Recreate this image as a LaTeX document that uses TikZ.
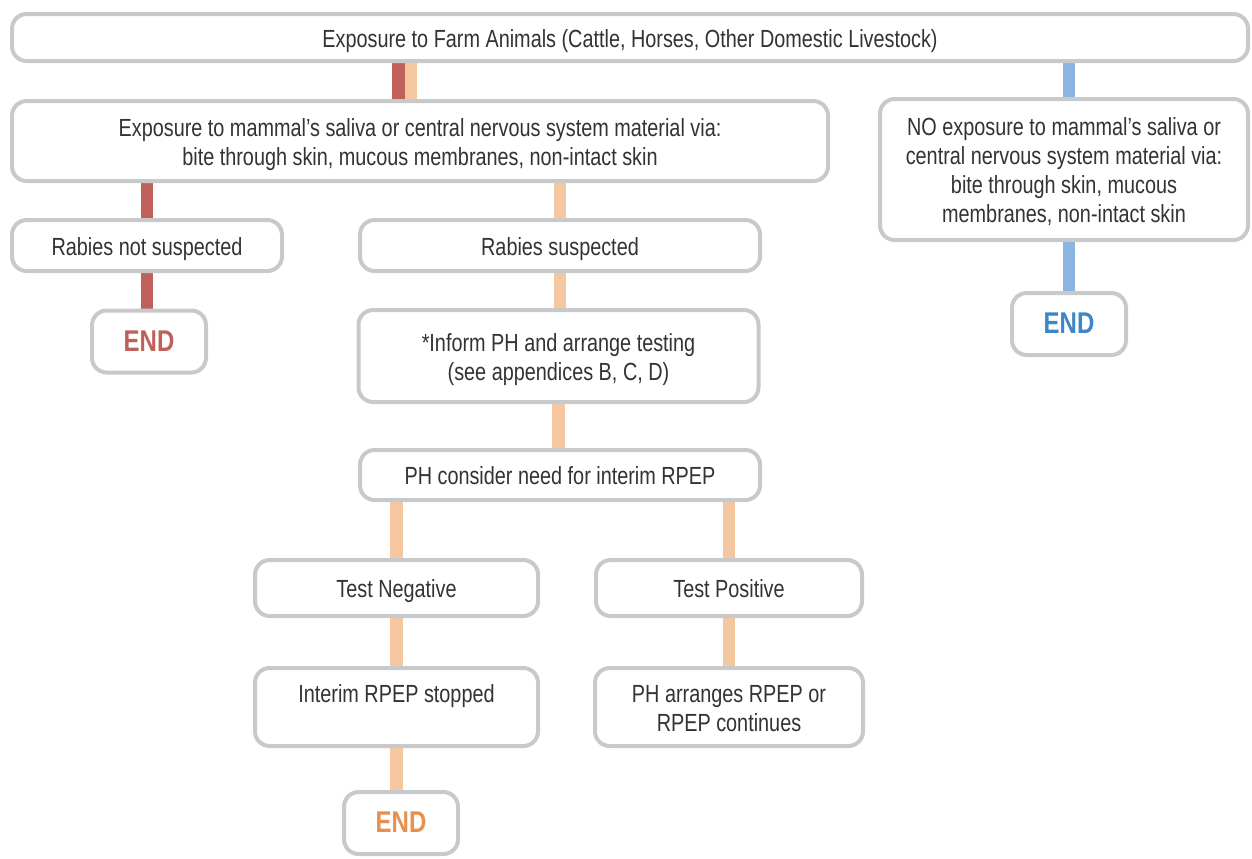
\documentclass[tikz,border=0pt]{standalone}
\usepackage{fontspec}
\setmainfont{Liberation Sans}[FakeStretch=0.8]
\usetikzlibrary{calc}
\pgfdeclarelayer{bg}
\pgfsetlayers{bg,main}
\definecolor{boxgrey}{HTML}{C8C9CA}
\definecolor{txt}{HTML}{333333}
\definecolor{redc}{HTML}{C0605B}
\definecolor{peach}{HTML}{F4C7A1}
\definecolor{bluec}{HTML}{8BB5E0}
\definecolor{endred}{HTML}{C0605B}
\definecolor{endorange}{HTML}{E8904F}
\definecolor{endblue}{HTML}{3E86C8}
\newcommand\tstrut{\rule[-6.5pt]{0pt}{27.7pt}}
\tikzset{
  box/.style={draw=boxgrey, line width=3pt, rounded corners=11pt, fill=white,
    align=center, inner sep=0pt, text=txt, font=\fontsize{18.6}{21.75}\selectfont},
  endbox/.style={box, minimum width=85.5pt, minimum height=46.5pt,
    font=\fontsize{22.5}{26}\selectfont\bfseries},
  bar/.style={line width=9.5pt}
}
\begin{document}
\begin{tikzpicture}[x=0.75pt,y=-0.75pt]
\useasboundingbox (0,0) rectangle (1252,858);
\node[box, minimum width=927pt, minimum height=35.25pt] (top) at (630,37.5)
  {\tstrut Exposure to Farm Animals (Cattle, Horses, Other Domestic Livestock)};
\node[box, minimum width=612pt, minimum height=60pt] (expo) at (420,141)
  {\tstrut Exposure to mammal’s saliva or central nervous system material via:\\\strut bite through skin, mucous membranes, non-intact skin};
\node[box, minimum width=276pt, minimum height=105.75pt] (no) at (1064,169.5)
  {\tstrut NO exposure to mammal’s saliva or\\\strut central nervous system material via:\\\strut bite through skin, mucous\\\strut membranes, non-intact skin};
\node[box, minimum width=202.5pt, minimum height=38.25pt] (nots) at (147,245.5) {\tstrut Rabies not suspected};
\node[endbox, text=endred] (endr) at (149,341.5) {\tstrut END};
\node[box, minimum width=300pt, minimum height=38.25pt] (susp) at (560,245.5) {\tstrut Rabies suspected};
\node[box, minimum width=300pt, minimum height=69pt] (inform) at (558.5,356)
  {\tstrut *Inform PH and arrange testing\\\strut (see appendices B, C, D)};
\node[box, minimum width=300pt, minimum height=37.5pt] (phc) at (560,475) {\tstrut PH consider need for interim RPEP};
\node[box, minimum width=212.25pt, minimum height=42pt] (neg) at (396.5,588) {\tstrut Test Negative};
\node[box, minimum width=199.5pt, minimum height=42pt] (pos) at (729,588) {\tstrut Test Positive};
\node[box, minimum width=212.25pt, minimum height=58.5pt] (interim) at (396.5,707) {\tstrut Interim RPEP stopped\\\strut};
\node[box, minimum width=201pt, minimum height=58.5pt] (arr) at (729,707) {\tstrut PH arranges RPEP or\\\strut RPEP continues};
\node[endbox, text=endorange] (endo) at (401,823) {\tstrut END};
\node[endbox, text=endblue] (endb) at (1069,324) {\tstrut END};
\coordinate (rx) at (398.5,0);
\coordinate (px) at (411,0);
\begin{pgfonlayer}{bg}
\draw[bar, redc] (top.south -| rx) -- (expo.north -| rx);
\draw[bar, peach] (top.south -| px) -- (expo.north -| px);
\draw[bar, redc] (expo.south -| nots.north) -- (nots.north);
\draw[bar, redc] (nots.south) -- (nots.south |- endr.north);
\draw[bar, peach] (expo.south -| susp.north) -- (susp.north);
\draw[bar, peach] (susp.south) -- (susp.south |- inform.north);
\draw[bar, peach] (inform.south) -- (inform.south |- phc.north);
\draw[bar, peach] (phc.south -| neg.north) -- (neg.north);
\draw[bar, peach] (phc.south -| pos.north) -- (pos.north);
\draw[bar, peach] (neg.south) -- (interim.north);
\draw[bar, peach] (pos.south) -- (arr.north);
\draw[bar, peach] (interim.south) -- (interim.south |- endo.north);
\draw[bar, bluec] (top.south -| endb.north) -- (no.north -| endb.north);
\draw[bar, bluec] (no.south -| endb.north) -- (endb.north);
\end{pgfonlayer}
\end{tikzpicture}
\end{document}
